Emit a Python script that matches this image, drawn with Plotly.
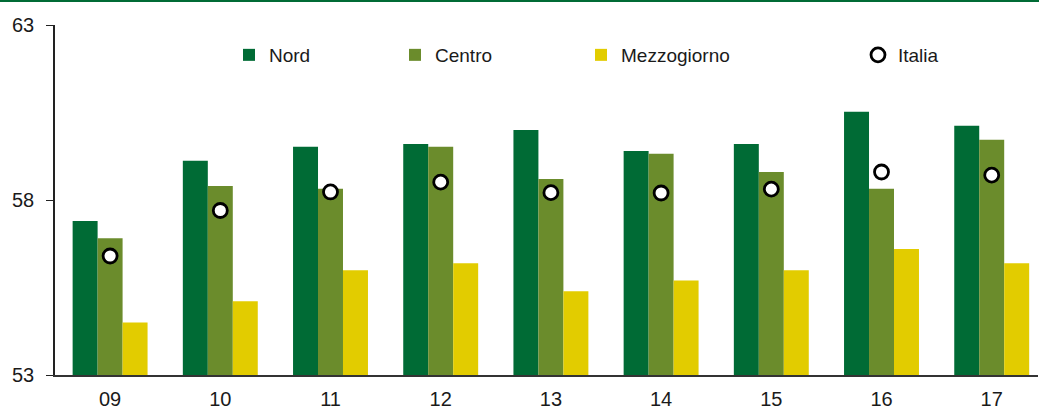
import plotly.graph_objects as go

years = ["09", "10", "11", "12", "13", "14", "15", "16", "17"]
nord = [57.40, 59.12, 59.52, 59.60, 60.00, 59.40, 59.60, 60.52, 60.12]
centro = [56.91, 58.40, 58.32, 59.52, 58.60, 59.32, 58.80, 58.32, 59.72]
mezzogiorno = [54.50, 55.11, 55.99, 56.19, 55.39, 55.70, 55.99, 56.60, 56.19]
italia = [56.40, 57.70, 58.23, 58.51, 58.21, 58.20, 58.31, 58.80, 58.71]

font = "Liberation Sans, Arial, sans-serif"
W, H = 1039, 410
L, R, T, B = 55, 1, 25, 35
PW, PH = W - L - R, H - T - B

fig = go.Figure()
fig.add_trace(go.Bar(x=years, y=[v - 53 for v in nord], base=53, name="Nord",
                     marker=dict(color="#006b35", line=dict(width=0)), legend="legend"))
fig.add_trace(go.Bar(x=years, y=[v - 53 for v in centro], base=53, name="Centro",
                     marker=dict(color="#6b8c2c", line=dict(width=0)), legend="legend2"))
fig.add_trace(go.Bar(x=years, y=[v - 53 for v in mezzogiorno], base=53, name="Mezzogiorno",
                     marker=dict(color="#e2cc00", line=dict(width=0)), legend="legend3"))
fig.add_trace(go.Scatter(x=years, y=italia, name="Italia", mode="markers",
                         marker=dict(color="white", size=14, line=dict(color="black", width=2.8)),
                         legend="legend4"))

def leg(px):
    return dict(x=(px - L) / PW, xref="paper", y=(H - B - 55) / PH, yref="paper", yanchor="middle",
                xanchor="left", orientation="h", bgcolor="rgba(0,0,0,0)",
                font=dict(family=font, size=19, color="#1a1a1a"), itemclick=False)

fig.update_layout(
    width=W, height=H,
    margin=dict(l=L, r=R, t=T, b=B, autoexpand=False),
    paper_bgcolor="white", plot_bgcolor="white",
    barmode="group", bargap=0.32, bargroupgap=0,
    font=dict(family=font, size=20, color="#1a1a1a"),
    showlegend=True,
    legend=leg(229), legend2=leg(395), legend3=leg(581), legend4=leg(858),
    xaxis=dict(type="category", range=[-0.5, 8.42], showline=True, linecolor="#333333", linewidth=1.5,
               ticks="", showgrid=False, tickfont=dict(size=20), ticklabelstandoff=5),
    yaxis=dict(range=[53, 63], tickvals=[53, 58, 63], showline=True, linecolor="#222222", linewidth=1.5,
               ticks="outside", ticklen=7, tickcolor="#222222", showgrid=False, zeroline=False,
               tickfont=dict(size=20), ticklabelstandoff=8),
    shapes=[dict(type="line", xref="paper", yref="paper", x0=-L / PW, x1=1.01,
                 y0=(H - B - 1) / PH, y1=(H - B - 1) / PH,
                 line=dict(color="#006b35", width=2))],
)
fig.write_html("out.html", config={"displayModeBar": False},
               post_script="document.body.style.margin='0';")
